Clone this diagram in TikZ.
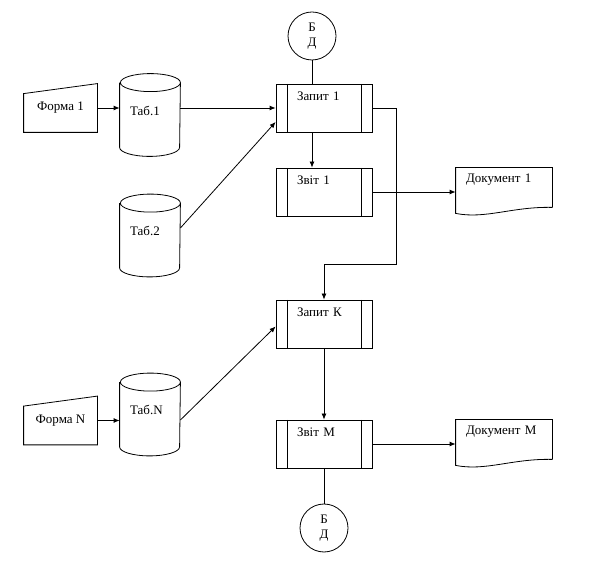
\documentclass[tikz,border=0pt]{standalone}
\usepackage{fontspec}
\setmainfont{Liberation Serif}
\usetikzlibrary{arrows.meta}

\begin{document}
\begin{tikzpicture}[x=1pt,y=1pt,line width=0.8pt,font=\fontsize{13}{15}\selectfont,
    proc/.style={draw,inner xsep=21pt,inner ysep=5pt,text width=54pt,
        text height=12pt,text depth=26pt,align=left,
        path picture={\draw ([xshift=11pt]path picture bounding box.north west) -- ([xshift=11pt]path picture bounding box.south west)
            ([xshift=-11pt]path picture bounding box.north east) -- ([xshift=-11pt]path picture bounding box.south east);}},
    doc/.style={inner xsep=10pt,inner ysep=5pt,text width=76pt,
        text height=10pt,text depth=28pt,align=left},
    tab/.style={minimum width=60pt,minimum height=82pt,inner sep=0pt,text width=40pt,
        text height=9pt,text depth=8pt,align=left},
    form/.style={minimum width=73pt,minimum height=48pt,inner sep=0pt},
    bd/.style={circle,draw,minimum size=48pt,inner sep=0pt,align=center},
    flow/.style={-{Latex[length=6pt,width=5pt]}}]
\useasboundingbox (0,0) rectangle (589,565);

% inputs
\node[form] (form1) at (60.5,457) {Форма 1};
\node[form] (formN) at (60.5,144.5) {Форма N};
\node[tab] (tab1) at (150,450) {Таб.1};
\node[tab] (tab2) at (150,329.5) {Таб.2};
\node[tab] (tabN) at (150,150.5) {Таб.N};

% queries and reports
\node[bd] (bd1) at (312,529) {Б\\Д};
\node[proc] (zapyt1) at (324,457) {Запит 1};
\node[proc] (zvit1) at (324,373) {Звіт 1};
\node[proc] (zapytK) at (324,241) {Запит К};
\node[proc] (zvitM) at (324,121) {Звіт М};
\node[bd] (bd2) at (324,37) {Б\\Д};
\node[doc] (doc1) at (504,373) {Документ 1};
\node[doc] (docM) at (504,121) {Документ М};
\coordinate (turn) at (396,301);

% outlines
\foreach \n in {form1,formN}
    \draw ([yshift=-10pt]\n.north west) -- (\n.north east) -- (\n.south east) -- (\n.south west) -- cycle;
\foreach \n in {tab1,tab2,tabN}
    \draw ([yshift=-9pt]\n.north west) -- ([yshift=9pt]\n.south west)
        arc[start angle=180,end angle=360,x radius=30pt,y radius=9pt] -- ([yshift=-9pt]\n.north east)
        arc[start angle=0,end angle=360,x radius=30pt,y radius=9pt];
\foreach \n in {doc1,docM}
    \draw ([yshift=9pt]\n.south east) -- (\n.north east) -- (\n.north west) -- ([yshift=3pt]\n.south west)
        .. controls ([xshift=30pt,yshift=-3pt]\n.south west) and ([xshift=-40pt,yshift=10pt]\n.south east) .. ([yshift=9pt]\n.south east);

% connectors
\draw[flow] (form1.east) -- (form1.east -| tab1.west);
\draw[flow] (tab1.east |- zapyt1.west) -- (zapyt1.west);
\draw[flow] ([yshift=7.5pt]tab2.east) -- ([yshift=-14pt]zapyt1.west);
\draw (bd1.south) -- (bd1.south |- zapyt1.north);
\draw[flow] ([xshift=-12pt]zapyt1.south) -- ([xshift=-12pt]zvit1.north);
\draw[flow] (zapyt1.east) -| (turn) -| (zapytK.north);
\draw[flow] (zvit1.east) -- (doc1.west);
\draw[flow] (formN.east) -- (formN.east -| tabN.west);
\draw[flow] ([yshift=-5.5pt]tabN.east) -- ([yshift=-2.5pt]zapytK.west);
\draw[flow] (zapytK.south) -- (zvitM.north);
\draw[flow] (zvitM.east) -- (docM.west);
\draw (zvitM.south) -- (bd2.north);
\end{tikzpicture}
\end{document}
